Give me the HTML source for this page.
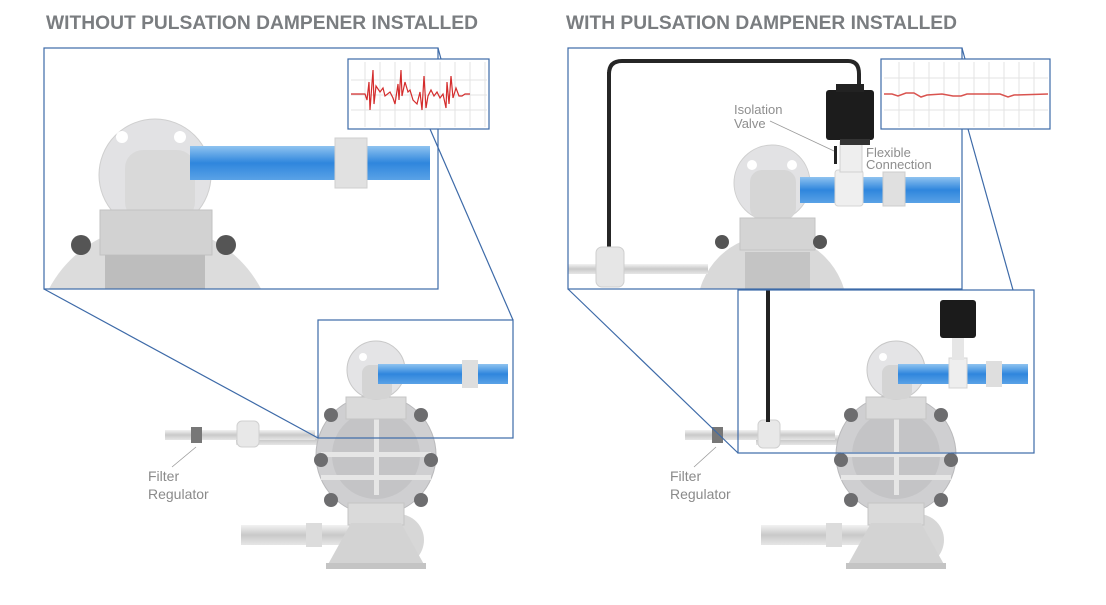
<!DOCTYPE html>
<html><head><meta charset="utf-8"><style>
body{margin:0;background:#fff;width:1106px;height:600px;overflow:hidden;font-family:"Liberation Sans",sans-serif}
</style></head><body>
<svg width="1106" height="600" viewBox="0 0 1106 600" xmlns="http://www.w3.org/2000/svg">
<defs>
<clipPath id="cl"><rect x="44" y="48" width="394" height="241"/></clipPath>
<clipPath id="cr"><rect x="568" y="48" width="394" height="241"/></clipPath>
<linearGradient id="pipeB" x1="0" y1="0" x2="0" y2="1"><stop offset="0" stop-color="#8fc3f0"/><stop offset=".5" stop-color="#2f86dd"/><stop offset="1" stop-color="#5aa2e6"/></linearGradient>
<linearGradient id="pipeG" x1="0" y1="0" x2="0" y2="1"><stop offset="0" stop-color="#f2f2f2"/><stop offset=".5" stop-color="#c9c9c9"/><stop offset="1" stop-color="#e6e6e6"/></linearGradient>
<g id="pump">
 <rect x="-140" y="-20" width="130" height="10" fill="url(#pipeG)"/>
 <rect x="-135" y="70" width="120" height="20" fill="url(#pipeG)"/>
 <rect x="-70" y="68" width="16" height="24" fill="#dcdcdc"/>
 <circle cx="22" cy="85" r="26" fill="#d7d7d7"/>
 <circle cx="0" cy="0" r="60" fill="#cfcfd1" stroke="#b9b9bb"/>
 <circle cx="0" cy="0" r="44" fill="#c4c4c6"/>
 <rect x="-55" y="-3" width="110" height="5" fill="#e6e6e6"/>
 <rect x="-55" y="20" width="110" height="5" fill="#e6e6e6"/>
 <rect x="-2" y="-40" width="5" height="80" fill="#e6e6e6"/>
 <circle cx="-45" cy="-40" r="7" fill="#6d6d6f"/><circle cx="45" cy="-40" r="7" fill="#6d6d6f"/>
 <circle cx="-55" cy="5" r="7" fill="#6d6d6f"/><circle cx="55" cy="5" r="7" fill="#6d6d6f"/>
 <circle cx="-45" cy="45" r="7" fill="#6d6d6f"/><circle cx="45" cy="45" r="7" fill="#6d6d6f"/>
 <rect x="-30" y="-58" width="60" height="22" fill="#dadada" stroke="#c4c4c4"/>
 <rect x="-28" y="48" width="56" height="22" fill="#dadada" stroke="#c4c4c4"/>
 <polygon points="-25,68 25,68 50,113 -50,113" fill="#d3d3d3"/>
 <rect x="-50" y="108" width="100" height="6" fill="#c4c4c4"/>
 <circle cx="0" cy="-85" r="29" fill="#e4e4e6" stroke="#c8c8c8"/>
 <circle cx="-13" cy="-98" r="4" fill="#fff"/>
 <rect x="-14" y="-90" width="30" height="34" rx="8" fill="#d4d4d4"/>
</g>
</defs>

<text x="46" y="29" font-size="19" font-weight="bold" fill="#7a7d80" textLength="432" lengthAdjust="spacingAndGlyphs">WITHOUT PULSATION DAMPENER INSTALLED</text>
<text x="566" y="29" font-size="19" font-weight="bold" fill="#7a7d80" textLength="391" lengthAdjust="spacingAndGlyphs">WITH PULSATION DAMPENER INSTALLED</text>

<use href="#pump" x="376" y="455"/>
<rect x="378" y="364" width="130" height="20" fill="url(#pipeB)"/>
<rect x="462" y="360" width="16" height="28" fill="#dedede"/>
<rect x="165" y="430" width="150" height="10" fill="url(#pipeG)"/>
<rect x="191" y="427" width="11" height="16" fill="#777"/>
<rect x="237" y="421" width="22" height="26" rx="5" fill="#e8e8e8" stroke="#d0d0d0"/>
<line x1="196" y1="447" x2="172" y2="467" stroke="#999" stroke-width="0.8"/>
<text x="148" y="481" font-size="14" fill="#8a8a8a">Filter</text>
<text x="148" y="499" font-size="14" fill="#8a8a8a">Regulator</text>

<rect x="44" y="48" width="394" height="241" fill="#fff"/>
<g clip-path="url(#cl)">
 <circle cx="155" cy="345" r="120" fill="#dcdcdc"/>
 <circle cx="155" cy="175" r="56" fill="#e2e2e4" stroke="#cfcfcf"/>
 <circle cx="122" cy="137" r="6" fill="#fff"/>
 <circle cx="180" cy="137" r="6" fill="#fff"/>
 <rect x="125" y="150" width="70" height="70" rx="18" fill="#d9d9d9"/>
 <rect x="100" y="210" width="112" height="45" fill="#d2d2d2" stroke="#c2c2c2"/>
 <rect x="105" y="255" width="100" height="36" fill="#bdbdbd"/>
 <circle cx="81" cy="245" r="10" fill="#555"/><circle cx="226" cy="245" r="10" fill="#555"/>
 <rect x="190" y="146" width="240" height="34" fill="url(#pipeB)"/>
 <rect x="335" y="138" width="32" height="50" fill="#e1e1e1" stroke="#cfcfcf"/>
</g>
<rect x="44" y="48" width="394" height="241" fill="none" stroke="#3d6aa8" stroke-width="1.2"/>
<rect x="348" y="59" width="141" height="70" fill="#fff" stroke="#3d6aa8" stroke-width="1.2"/>
<g stroke="#e3e3e3" stroke-width="1">
 <path d="M365 62V127M380 62V127M395 62V127M410 62V127M425 62V127M440 62V127M455 62V127M470 62V127M485 62V127M351 80H487M351 95H487M351 110H487"/>
</g>
<polyline fill="none" stroke="#d42c2c" stroke-width="1.2" points="351,94 365,94 367,100 369,82 370,110 373,70 374,104 376,86 380,92 383,88 385,96 390,92 393,98 395,104 398,84 399,100 401,70 402,96 405,82 408,92 410,90 413,100 417,104 420,92 422,110 424,76 426,108 428,96 431,90 434,96 437,92 440,98 443,94 446,108 447,82 449,104 451,76 453,98 456,88 459,96 462,96 465,94 470,94"/>
<line x1="44" y1="289" x2="318" y2="438" stroke="#3d6aa8" stroke-width="1.2"/>
<line x1="438" y1="48" x2="441" y2="59" stroke="#3d6aa8" stroke-width="1.2"/>
<line x1="430" y1="129" x2="513" y2="320" stroke="#3d6aa8" stroke-width="1.2"/>
<rect x="318" y="320" width="195" height="118" fill="none" stroke="#3d6aa8" stroke-width="1.2"/>

<use href="#pump" x="896" y="455"/>
<rect x="898" y="364" width="130" height="20" fill="url(#pipeB)"/>
<rect x="949" y="358" width="18" height="30" fill="#eee" stroke="#d4d4d4"/>
<rect x="986" y="361" width="16" height="26" fill="#dedede"/>
<rect x="952" y="338" width="12" height="22" fill="#e6e6e6"/>
<rect x="940" y="300" width="36" height="38" rx="3" fill="#1b1b1b"/>
<rect x="685" y="430" width="150" height="10" fill="url(#pipeG)"/>
<rect x="712" y="427" width="11" height="16" fill="#777"/>
<rect x="758" y="420" width="22" height="28" rx="5" fill="#e8e8e8" stroke="#d0d0d0"/>
<rect x="766" y="290" width="4" height="132" fill="#222"/>
<line x1="716" y1="447" x2="694" y2="467" stroke="#999" stroke-width="0.8"/>
<text x="670" y="481" font-size="14" fill="#8a8a8a">Filter</text>
<text x="670" y="499" font-size="14" fill="#8a8a8a">Regulator</text>

<rect x="568" y="48" width="394" height="241" fill="#fff"/>
<g clip-path="url(#cr)">
 <circle cx="772" cy="310" r="75" fill="#d9d9d9"/>
 <circle cx="772" cy="183" r="38" fill="#e2e2e4" stroke="#cfcfcf"/>
 <circle cx="752" cy="165" r="5" fill="#fff"/><circle cx="792" cy="165" r="5" fill="#fff"/>
 <rect x="750" y="170" width="46" height="50" rx="12" fill="#d6d6d6"/>
 <rect x="740" y="218" width="75" height="32" fill="#d4d4d4" stroke="#c3c3c3"/>
 <circle cx="722" cy="242" r="7" fill="#555"/><circle cx="820" cy="242" r="7" fill="#555"/>
 <rect x="745" y="252" width="65" height="40" fill="#c4c4c4"/>
 <rect x="568" y="264" width="140" height="10" fill="url(#pipeG)"/>
 <path d="M609 74 Q609 61 622 61 L848 61 Q859 61 859 74 L859 92" fill="none" stroke="#262626" stroke-width="4"/>
 <line x1="609" y1="72" x2="609" y2="250" stroke="#262626" stroke-width="4"/>
 <rect x="596" y="247" width="28" height="40" rx="6" fill="#e6e6e6" stroke="#cfcfcf"/>
 <rect x="800" y="177" width="160" height="26" fill="url(#pipeB)"/>
 <rect x="835" y="170" width="28" height="36" rx="3" fill="#efefef" stroke="#d4d4d4"/>
 <rect x="883" y="172" width="22" height="34" fill="#e0e0e0" stroke="#cdcdcd"/>
 <rect x="840" y="142" width="22" height="30" fill="#eee" stroke="#d0d0d0"/>
 <rect x="834" y="146" width="3" height="18" fill="#222"/>
 <rect x="826" y="90" width="48" height="50" rx="3" fill="#1c1c1c"/>
 <rect x="836" y="84" width="28" height="8" fill="#222"/>
 <rect x="840" y="139" width="30" height="6" fill="#333"/>
</g>
<line x1="770" y1="121" x2="834" y2="151" stroke="#999" stroke-width="0.8"/>
<text x="734" y="114" font-size="13" fill="#8e8e8e">Isolation</text>
<text x="734" y="128" font-size="13" fill="#8e8e8e">Valve</text>
<text x="866" y="157" font-size="13" fill="#8e8e8e">Flexible</text>
<text x="866" y="169" font-size="13" fill="#8e8e8e">Connection</text>
<rect x="568" y="48" width="394" height="241" fill="none" stroke="#3d6aa8" stroke-width="1.2"/>
<rect x="881" y="59" width="169" height="70" fill="#fff" stroke="#3d6aa8" stroke-width="1.2"/>
<g stroke="#e3e3e3" stroke-width="1">
 <path d="M899 62V127M914 62V127M929 62V127M944 62V127M959 62V127M974 62V127M989 62V127M1004 62V127M1019 62V127M1034 62V127M884 78H1048M884 110H1048"/>
</g>
<polyline fill="none" stroke="#d9534f" stroke-width="1.5" points="884,94 892,94 898,96 906,93 914,93 921,97 927,95 942,94 953,96 961,96 967,94 1000,94 1008,97 1014,95 1048,94"/>
<line x1="962" y1="48" x2="965" y2="59" stroke="#3d6aa8" stroke-width="1.2"/>
<line x1="968" y1="129" x2="1013" y2="290" stroke="#3d6aa8" stroke-width="1.2"/>
<line x1="568" y1="289" x2="738" y2="453" stroke="#3d6aa8" stroke-width="1.2"/>
<rect x="738" y="290" width="296" height="163" fill="none" stroke="#3d6aa8" stroke-width="1.2"/>
</svg>
</body></html>
